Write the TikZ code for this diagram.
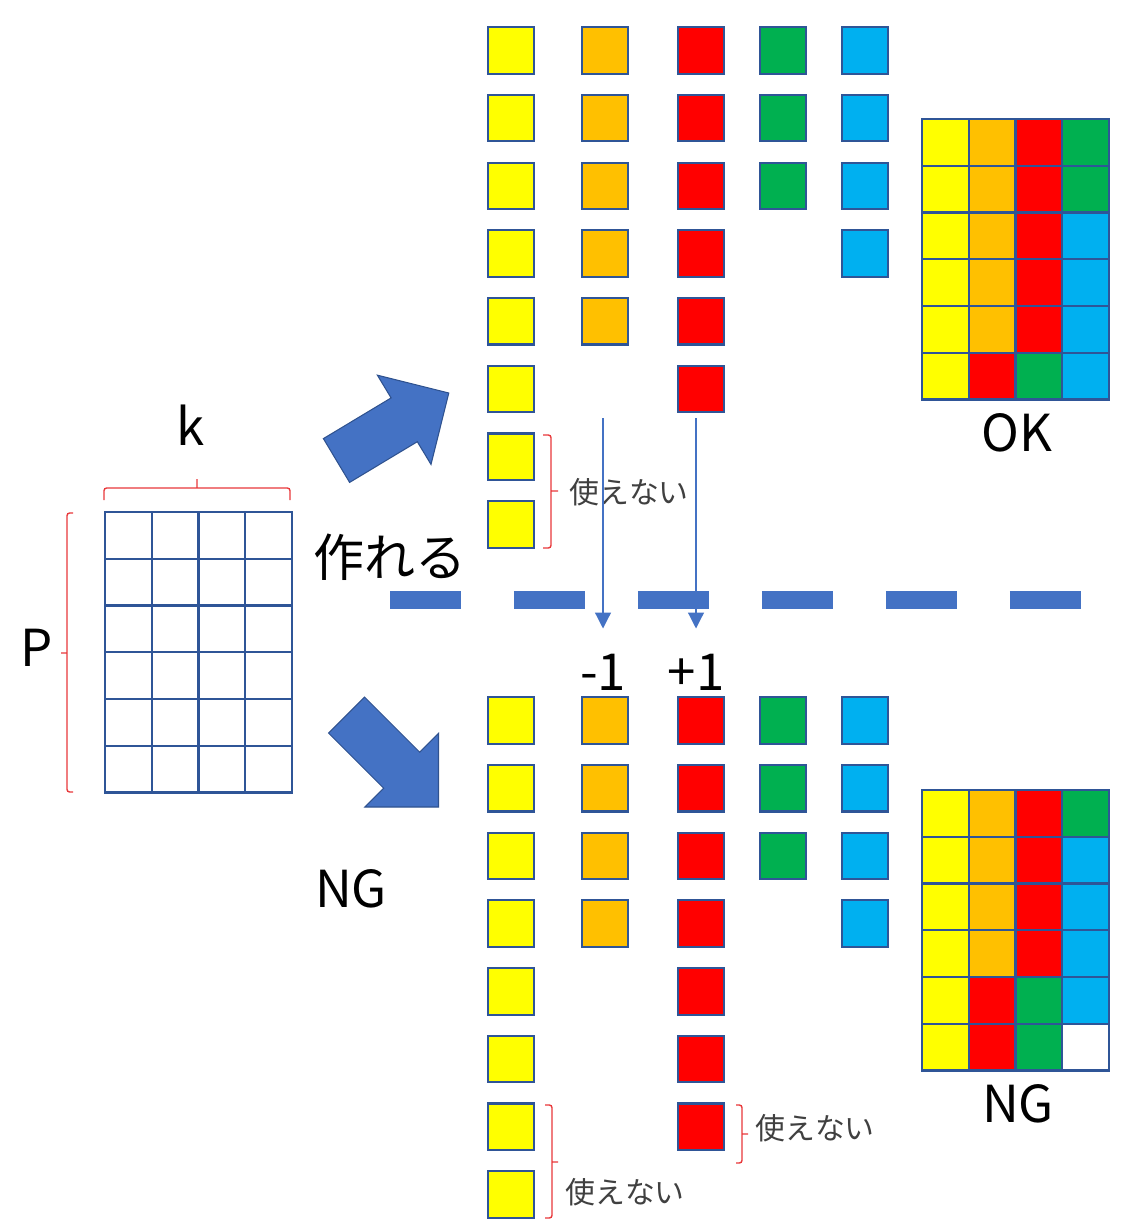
\documentclass[tikz,border=0pt]{standalone}
\usepackage{fontspec}
\setmainfont{Noto Sans CJK JP}
\usepackage{xcolor}
\usepackage{tikz}
\usetikzlibrary{matrix,arrows.meta}
\definecolor{cy}{HTML}{FFFF00}
\definecolor{co}{HTML}{FFC000}
\definecolor{cr}{HTML}{FF0000}
\definecolor{cg}{HTML}{00B050}
\definecolor{cb}{HTML}{00B0F0}
\definecolor{frame}{HTML}{2F5597}
\definecolor{accent}{HTML}{4472C4}
\definecolor{accentdark}{HTML}{2F528F}
\definecolor{bracered}{HTML}{E8383A}

\begin{document}
\begin{tikzpicture}[x=0.02cm, y=-0.02cm,
  sq/.style={draw=frame, line width=1.2pt, minimum size=0.93cm, inner sep=0pt},
  cell/.style={draw=frame, anchor=center, minimum size=0.935cm, inner sep=0pt},
  grid/.style={matrix of nodes, nodes in empty cells, line width=1.2pt, nodes={cell},
    column sep=-\pgflinewidth, row sep=-\pgflinewidth, inner sep=0pt, outer sep=0pt, anchor=north west},
  fy/.style={fill=cy}, fo/.style={fill=co}, fr/.style={fill=cr}, fg/.style={fill=cg}, fb/.style={fill=cb},
  big/.style={font=\fontsize{29pt}{32pt}\selectfont, inner sep=0pt},
  note/.style={font=\fontsize{17pt}{19pt}\selectfont, text=black!75, inner sep=0pt, anchor=west},
  brace/.style={draw=bracered, line width=0.8pt, rounded corners=1.5pt},
  bigarrow/.style={fill=accent, draw=accentdark, line width=0.6pt},
  thinarrow/.style={draw=accent, line width=0.7pt, -{Triangle[width=9pt,length=9pt]}}]
\useasboundingbox (0,0) rectangle (1132,1230);

% empty P x k table
\matrix[grid] (table) at (104,511) {
 & & & \\ & & & \\ & & & \\ & & & \\ & & & \\ & & & \\
};
\node[big] (k) at (191,425) {k};
\node[big] (P) at (37,648) {P};
\path[brace] (104,500) |- (290,488) -- (290,500) (197,488) -- (197,479);
\path[brace] (73,513) -| (67,792) -- (73,792) (67,653) -- (61,653);

% block arrows
\path[bigarrow] (323.4,438.6) -- (349.6,482.4) -- (417.3,441.7) -- (431.0,464.4)
  -- (448.8,393.0) -- (377.4,375.2) -- (391.1,397.9) -- cycle;
\path[bigarrow] (364.5,697.0) -- (328.5,733.0) -- (383.7,788.2) -- (364.9,807.0)
  -- (438.5,807.0) -- (438.5,733.4) -- (419.7,752.2) -- cycle;
\node[big] (make) at (390,557) {作れる};
\node[big] (ng) at (351,889) {NG};

% pieces, upper case
\foreach \c/\x/\n in {y/511/8, o/605/5, r/701/6, g/783/3, b/865/4}
  \foreach \i in {1,...,\n}
    \node[sq, fill=c\c] (top-\c\i) at (\x,{50.5+(\i-1)*67.7}) {};
\path[brace] (543,435) -| (551,548) -- (543,548) (551,491) -- (558,491);
\node[note] (unused-top) at (569,492) {使えない};

\matrix[grid] (okgrid) at (921,118) {
|[fy]| & |[fo]| & |[fr]| & |[fg]| \\
|[fy]| & |[fo]| & |[fr]| & |[fg]| \\
|[fy]| & |[fo]| & |[fr]| & |[fb]| \\
|[fy]| & |[fo]| & |[fr]| & |[fb]| \\
|[fy]| & |[fo]| & |[fr]| & |[fb]| \\
|[fy]| & |[fr]| & |[fg]| & |[fb]| \\
};
\node[big] (ok) at (1017,433) {OK};

% split line
\draw[accent, line width=9.7pt, dash pattern=on 1.42cm off 1.06cm] (390,600) -- (1081,600);

\node[big] (minus) at (603,672) {-1};
\node[big] (plus) at (696,672) {+1};
\draw[thinarrow] (top-r6.south -| minus) ++(0,5) -- ([yshift=.5cm]minus.north);
\draw[thinarrow] (top-r6.south -| plus) ++(0,5) -- ([yshift=.5cm]plus.north);

% pieces, lower case
\foreach \c/\x/\n in {y/511/8, o/605/4, r/701/7, g/783/3, b/865/4}
  \foreach \i in {1,...,\n}
    \node[sq, fill=c\c] (bot-\c\i) at (\x,{720.5+(\i-1)*67.7}) {};
\path[brace] (545,1105) -| (552,1218) -- (545,1218) (552,1162) -- (558,1162);
\node[note] (unused-y) at (565,1192) {使えない};
\path[brace] (736,1105) -| (742,1163) -- (736,1163) (742,1134) -- (748,1134);
\node[note] (unused-r) at (755,1128) {使えない};

\matrix[grid] (nggrid) at (921,789) {
|[fy]| & |[fo]| & |[fr]| & |[fg]| \\
|[fy]| & |[fo]| & |[fr]| & |[fb]| \\
|[fy]| & |[fo]| & |[fr]| & |[fb]| \\
|[fy]| & |[fo]| & |[fr]| & |[fb]| \\
|[fy]| & |[fr]| & |[fg]| & |[fb]| \\
|[fy]| & |[fr]| & |[fg]| & \\
};
\node[big] (ng2) at (1018,1104) {NG};
\end{tikzpicture}
\end{document}
